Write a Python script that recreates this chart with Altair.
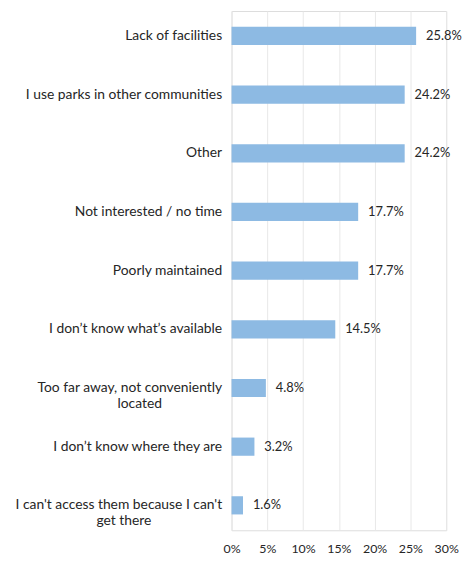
import altair as alt
import pandas as pd

categories = [
    "Lack of facilities",
    "I use parks in other communities",
    "Other",
    "Not interested / no time",
    "Poorly maintained",
    "I don\u2019t know what\u2019s available",
    "Too far away, not conveniently|located",
    "I don\u2019t know where they are",
    "I can't access them because I can't|get there",
]
values = [25.8, 24.2, 24.2, 17.7, 17.7, 14.5, 4.8, 3.2, 1.6]
tick_values = [0, 5, 10, 15, 20, 25, 30]

df = pd.DataFrame({"cat": categories, "val": values})
df["lab"] = df["val"].map(lambda v: f"{v:.1f}%")

FONT = "Lato"
TXT = "#262626"

# multi-line labels: second line centred under the first
# (no-break-space padding, closed by a word joiner so it is not trimmed)
L1 = "split(datum.label, '|')[0]"
L2 = "split(datum.label, '|')[1]"
label_expr = (
    f"indexof(datum.label, '|') < 0 ? datum.label : "
    f"[{L1}, pad({L2}, length({L2}) + round((length({L1}) - length({L2})) * 0.76), '\u00a0') + '\u2060']"
)

y_axis = alt.Axis(
    domain=False,
    ticks=False,
    grid=False,
    labelPadding=10,
    labelFont=FONT,
    labelFontSize=14,
    labelColor=TXT,
    labelLimit=300,
    labelAlign="right",
    labelLineHeight=16,
    minExtent=226,
    maxExtent=226,
    labelExpr=label_expr,
)
y_enc = alt.Y(
    "cat:N",
    sort=None,
    title=None,
    scale=alt.Scale(paddingInner=0.69, paddingOuter=0.27),
    axis=y_axis,
)

x_axis = alt.Axis(
    values=tick_values,
    labelExpr="datum.value + '%'",
    labelOverlap=False,
    labelBound=False,
    labelFlush=False,
    domain=False,
    ticks=False,
    grid=True,
    gridColor="#e8e8e8",
    gridWidth=1,
    labelPadding=12,
    labelFont=FONT,
    labelFontSize=12.5,
    labelColor=TXT,
)
x_enc = alt.X(
    "val:Q",
    title=None,
    scale=alt.Scale(domain=[0, 30], nice=False),
    axis=x_axis,
)

bars = alt.Chart(df).mark_bar(color="#8dbae3").encode(x=x_enc, y=y_enc)

text = alt.Chart(df).mark_text(
    align="left", baseline="middle", dx=10, font=FONT, fontSize=13, color=TXT
).encode(x=x_enc, y=y_enc, text="lab:N")

chart = (
    alt.layer(bars, text)
    .properties(width=217, height=525, padding=0)
    .configure_view(stroke=None)
    .configure(background="white")
)

chart.save("out.html", embed_options={"renderer": "svg", "actions": False})
